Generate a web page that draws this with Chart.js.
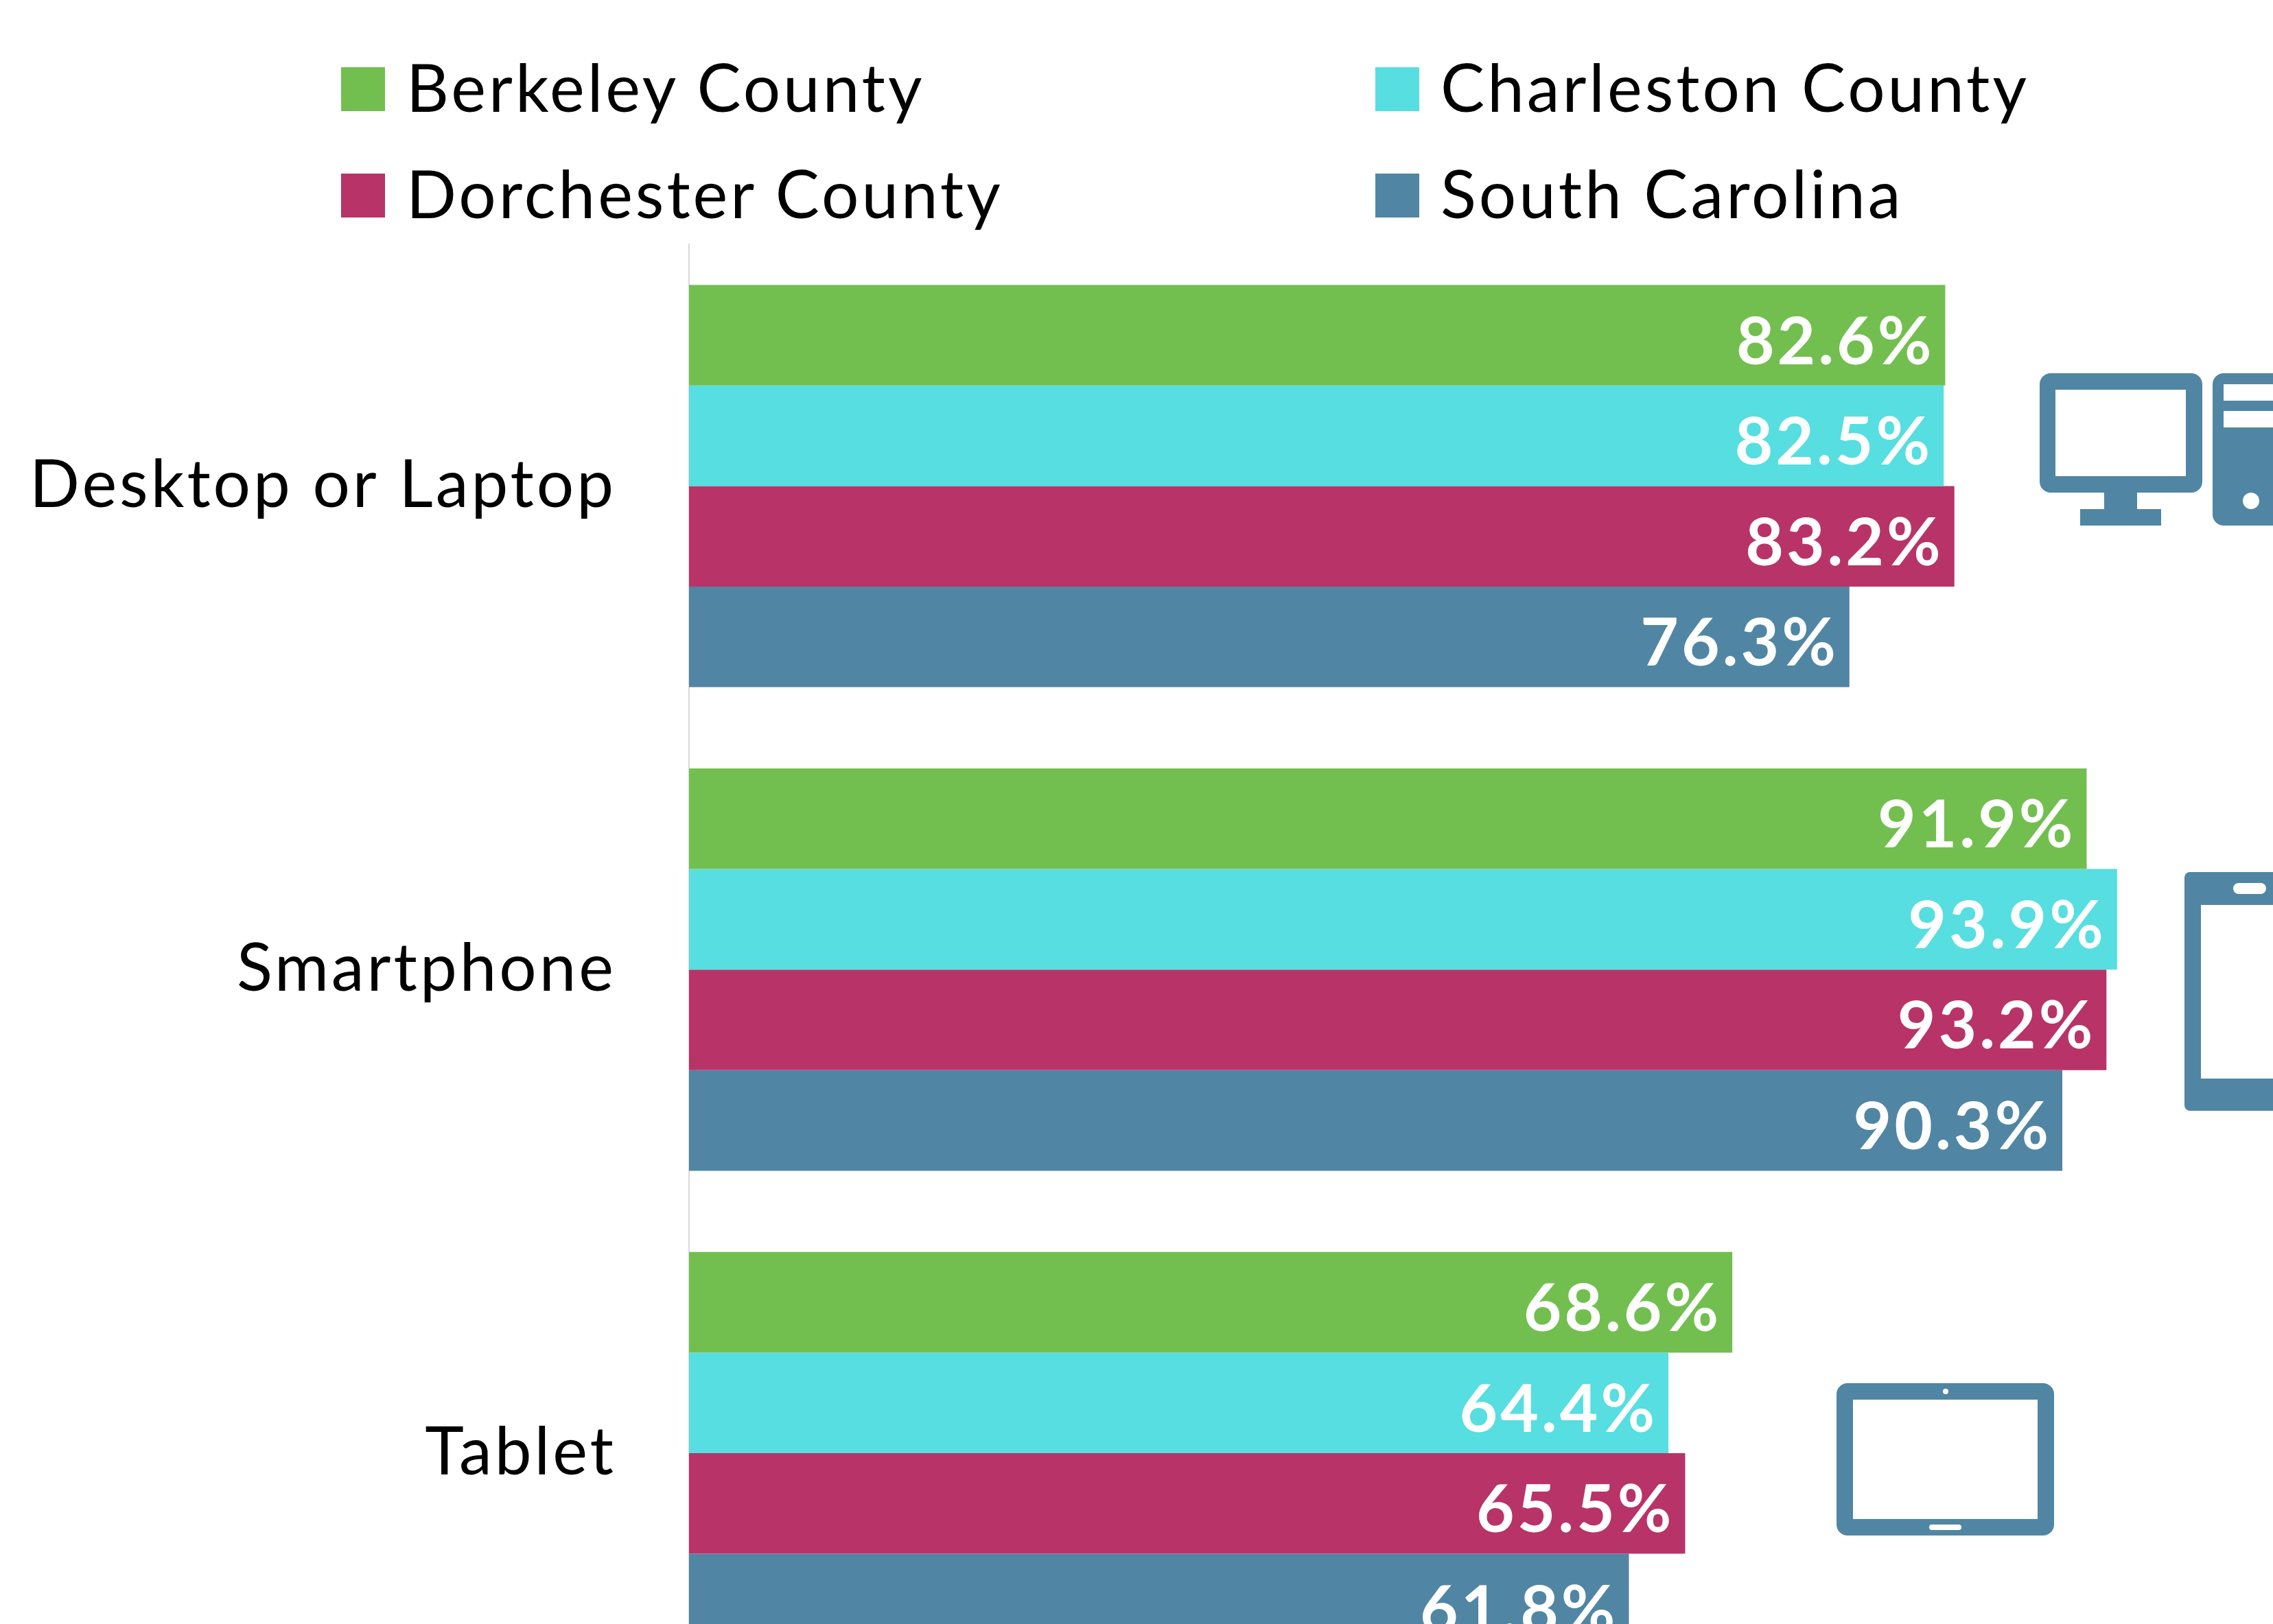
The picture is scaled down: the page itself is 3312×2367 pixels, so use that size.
<!DOCTYPE html>
<html>
<head>
<meta charset="utf-8">
<style>
  html, body { margin: 0; padding: 0; background: #fff; width: 3312px; height: 2367px; overflow: hidden; }
  #grafico { position: absolute; left: 0; top: 0; }
  #iconos { position: absolute; left: 0; top: 0; }
  .leyenda { position: absolute; font-family: Lato, sans-serif; font-size: 96px; line-height: 100px; color: #000; white-space: nowrap; letter-spacing: 4px; }
  .cuadro { position: absolute; width: 64px; height: 64px; }
</style>
</head>
<body>
<div id="leyenda"></div>
<canvas id="grafico" width="3312" height="2634"></canvas>
<svg id="iconos" width="3312" height="2367" fill="#5086a3" fill-rule="evenodd">
  <!-- monitor y torre -->
  <path d="M2988 544H3193a16 16 0 0 1 16 16V702a16 16 0 0 1 -16 16H2988a16 16 0 0 1 -16 -16V560a16 16 0 0 1 16 -16ZM2995 568V694H3185V568Z"/>
  <rect x="3066" y="718" width="48" height="24"/>
  <rect x="3031" y="742" width="118" height="24"/>
  <path d="M3240 544H3400V766H3240a16 16 0 0 1 -16 -16V560a16 16 0 0 1 16 -16ZM3240 560V584H3320V560ZM3240 599V623H3320V599Z"/>
  <circle cx="3280" cy="730" r="12" fill="#fff"/>
  <!-- smartphone -->
  <path d="M3191 1271H3400V1619H3191a8 8 0 0 1 -8 -8V1279a8 8 0 0 1 8 -8ZM3207 1319V1572H3349V1319Z"/>
  <rect x="3254" y="1287" width="48" height="16" rx="8" fill="#fff"/>
  <!-- tablet -->
  <path d="M2692 2016H2977a16 16 0 0 1 16 16V2222a16 16 0 0 1 -16 16H2692a16 16 0 0 1 -16 -16V2032a16 16 0 0 1 16 -16ZM2700 2040V2214H2969V2040Z"/>
  <circle cx="2835" cy="2028" r="4" fill="#fff"/>
  <rect x="2811" y="2222" width="47" height="8" rx="4" fill="#fff"/>
</svg>
<script src="https://cdn.jsdelivr.net/npm/chart.js@4"></script>
<script>
// datos
const categorias = ["Desktop or Laptop", "Smartphone", "Tablet"];
const nombresSeries = ["Berkeley County", "Charleston County", "Dorchester County", "South Carolina"];
const coloresSeries = ["#72bf4f", "#56dee0", "#b83368", "#5086a3"];
const berkeley = [82.6, 91.9, 68.6];
const charleston = [82.5, 93.9, 64.4];
const dorchester = [83.2, 93.2, 65.5];
const surCarolina = [76.3, 90.3, 61.8];
const valores = [berkeley, charleston, dorchester, surCarolina];

// leyenda en dos columnas
const posLeyenda = [[497, 98], [2004, 98], [497, 253], [2004, 253]];
const leyenda = document.getElementById("leyenda");
nombresSeries.forEach((nombre, i) => {
  const cuadro = document.createElement("div");
  cuadro.className = "cuadro";
  cuadro.style.left = posLeyenda[i][0] + "px";
  cuadro.style.top = posLeyenda[i][1] + "px";
  cuadro.style.background = coloresSeries[i];
  leyenda.appendChild(cuadro);

  const texto = document.createElement("div");
  texto.className = "leyenda";
  texto.style.left = (posLeyenda[i][0] + 95) + "px";
  texto.style.top = (posLeyenda[i][1] - 22) + "px";
  texto.textContent = nombre;
  leyenda.appendChild(texto);
});

// etiquetas dentro de cada barra, alineadas a la derecha
const etiquetasBarras = {
  id: "etiquetasBarras",
  beforeDraw(chart) {
    // el canvas pierde el estado al redimensionar, se pone aqui para las etiquetas del eje
    chart.ctx.letterSpacing = "4px";
  },
  afterDatasetsDraw(chart) {
    const ctx = chart.ctx;
    ctx.save();
    ctx.font = "700 96px Lato, sans-serif";
    ctx.letterSpacing = "4px";
    ctx.fillStyle = "#fff";
    ctx.textAlign = "right";
    ctx.textBaseline = "alphabetic";
    chart.data.datasets.forEach((ds, i) => {
      chart.getDatasetMeta(i).data.forEach((barra, j) => {
        ctx.fillText(ds.data[j].toFixed(1) + "%", barra.x - 16, barra.y + 42);
      });
    });
    ctx.restore();
  }
};

const ctx = document.getElementById("grafico").getContext("2d");
new Chart(ctx, {
  type: "bar",
  data: {
    labels: categorias,
    datasets: nombresSeries.map((nombre, i) => ({
      label: nombre,
      data: valores[i],
      backgroundColor: coloresSeries[i],
      categoryPercentage: 0.832,
      barPercentage: 1
    }))
  },
  plugins: [etiquetasBarras],
  options: {
    indexAxis: "y",
    responsive: false,
    animation: false,
    layout: { padding: { top: 356, right: 92, bottom: 0, left: 0 } },
    plugins: {
      legend: { display: false },
      tooltip: { enabled: false }
    },
    scales: {
      x: {
        min: 0,
        max: 100,
        display: false
      },
      y: {
        afterFit(scale) { scale.width = 1004; },
        grid: { display: false, drawTicks: false },
        border: { display: true, color: "#d9d9d9", width: 2 },
        ticks: {
          color: "#000",
          padding: 106,
          font: { family: "Lato, sans-serif", size: 96 }
        }
      }
    }
  }
});
</script>
</body>
</html>
